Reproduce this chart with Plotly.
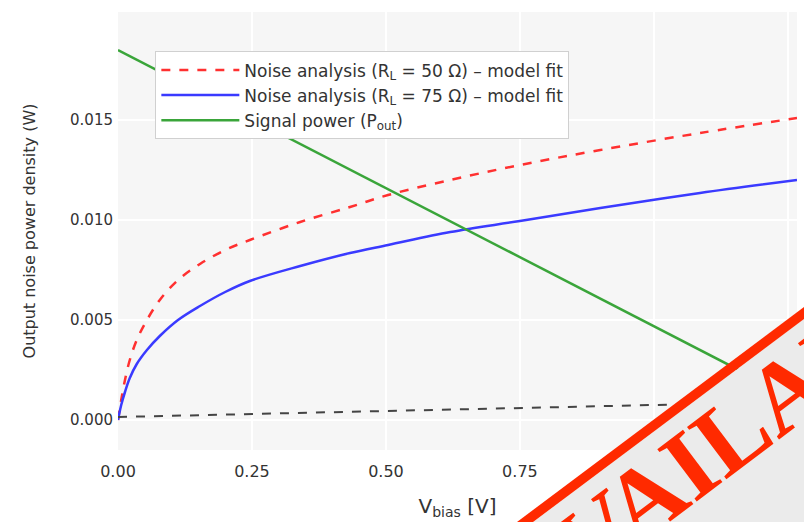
import plotly.graph_objects as go

# Bias voltage sweep (V)
v_bias = [0, 0.006, 0.013, 0.022, 0.035, 0.054, 0.078, 0.112, 0.153, 0.2,
          0.246, 0.34, 0.433, 0.504, 0.62, 0.75, 0.9, 1.086, 1.267]

# Noise model outputs (W)
noise_50 = [0, 0.001, 0.002, 0.003, 0.004, 0.005, 0.006, 0.007, 0.0078,
            0.0085, 0.009, 0.0099, 0.01065, 0.01125, 0.012, 0.01275, 0.0135,
            0.01435, 0.0151]
noise_75 = [0, 0.00075, 0.0014, 0.0021, 0.0028, 0.0035, 0.0042, 0.005,
            0.0057, 0.0064, 0.00695, 0.0077, 0.00835, 0.00875, 0.0094,
            0.00995, 0.0106, 0.01135, 0.012]

# Signal power and residual floor sampled on a coarse grid
v_coarse = [0, 0.25, 0.5, 0.75, 1.0, 1.267]
signal_power = [0.0185, 0.01505, 0.0116, 0.00815, 0.0047, 0.001]
noise_floor = [0.00015, 0.0003, 0.00045, 0.0006, 0.00075, 0.00095]

x_ticks = [0, 0.25, 0.5, 0.75, 1.0, 1.25]
x_labels = ["0.00", "0.25", "0.50", "0.75", "1.00", "1.25"]
y_ticks = [0, 0.005, 0.010, 0.015]
y_labels = ["0.000", "0.005", "0.010", "0.015"]

FONT = "DejaVu Sans"

fig = go.Figure()
fig.add_trace(go.Scatter(
    x=v_bias, y=noise_50, mode="lines", line_shape="spline",
    name="Noise analysis (R<sub>L</sub> = 50 Ω) – model fit",
    line=dict(color="#ff3030", width=2.5, dash="dash")))
fig.add_trace(go.Scatter(
    x=v_bias, y=noise_75, mode="lines", line_shape="spline",
    name="Noise analysis (R<sub>L</sub> = 75 Ω) – model fit",
    line=dict(color="#3a3aff", width=2.5)))
fig.add_trace(go.Scatter(
    x=v_coarse, y=signal_power, mode="lines",
    name="Signal power (P<sub>out</sub>)",
    line=dict(color="#3aa53a", width=2.5)))
fig.add_trace(go.Scatter(
    x=v_coarse, y=noise_floor, mode="lines", showlegend=False,
    line=dict(color="#444444", width=2, dash="dash")))

# plot area in pixels: x 118..797, y 12..450
L, R, T, B = 118, 797, 12, 450
W, H = R - L, B - T


def px(xp):
    return (xp - L) / W


def py(yp):
    return (B - yp) / H


# "UNAVAILABLE" stamp across the lower-right corner
grey_poly = [(533, 522), (804, 319), (804, 522)]
red_poly = [(517, 522), (804, 307), (804, 319), (533, 522)]


def path(poly):
    pts = [f"{px(a):.4f},{py(b):.4f}" for a, b in poly]
    return "M " + " L ".join(pts) + " Z"


fig.add_shape(type="path", path=path(grey_poly), xref="paper", yref="paper",
              fillcolor="#ebebeb", line=dict(width=0), layer="above")
fig.add_shape(type="path", path=path(red_poly), xref="paper", yref="paper",
              fillcolor="#ff2a00", line=dict(width=0), layer="above")
fig.add_annotation(text="<b>UNAVAILABLE</b>", xref="paper", yref="paper",
                   x=px(690), y=py(464), xanchor="center", yanchor="middle",
                   textangle=-37, showarrow=False,
                   font=dict(family="Liberation Serif", size=100, color="#ff2a00"))

fig.update_layout(
    width=804, height=522,
    margin=dict(l=L, r=804 - R, t=T, b=522 - B),
    paper_bgcolor="white",
    plot_bgcolor="#f6f6f6",
    font=dict(family=FONT, size=15, color="#333333"),
    showlegend=True,
    legend=dict(x=0.055, y=0.91, xanchor="left", yanchor="top",
                bgcolor="white", bordercolor="#d0d0d0", borderwidth=1,
                itemwidth=78,
                font=dict(size=17, color="#333333")),
    xaxis=dict(range=[0, 1.267], tickvals=x_ticks, ticktext=x_labels,
               showgrid=True, gridcolor="#ffffff", gridwidth=1.5,
               zeroline=False, showline=False, ticks="",
               ticklabelstandoff=10,
               title=dict(text="V<sub>bias</sub> [V]", font=dict(size=20),
                          standoff=18),
               tickfont=dict(size=16)),
    yaxis=dict(range=[-0.0015, 0.0204], tickvals=y_ticks, ticktext=y_labels,
               showgrid=True, gridcolor="#ffffff", gridwidth=1.5,
               zeroline=False, showline=False, ticks="",
               ticklabelstandoff=4,
               title=dict(text="Output noise power density (W)",
                          font=dict(size=16), standoff=30),
               tickfont=dict(size=15)),
)

fig.write_html("out.html")
